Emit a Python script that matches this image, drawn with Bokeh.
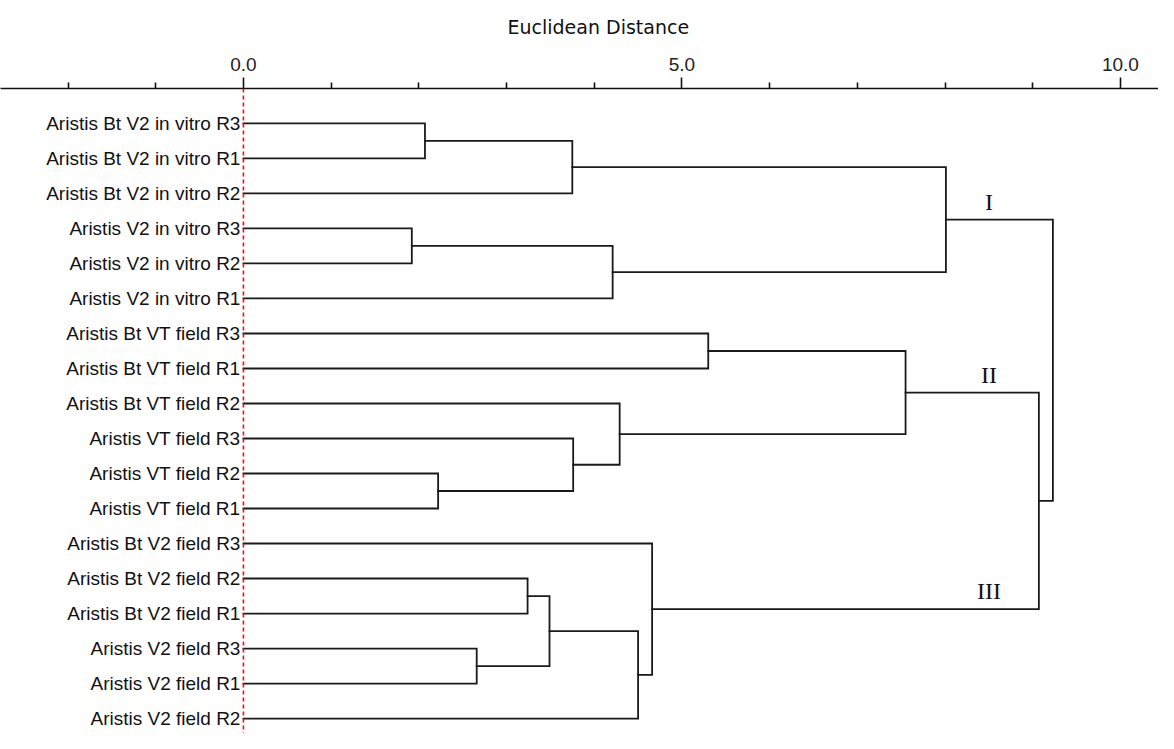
from bokeh.plotting import figure
from bokeh.models import Range1d, FixedTicker, PrintfTickFormatter, Span, ColumnDataSource
from bokeh.core.properties import value
from bokeh.embed import file_html
from bokeh.resources import INLINE

# ---- data ----
leaves = [
    "Aristis Bt V2 in vitro R3",
    "Aristis Bt V2 in vitro R1",
    "Aristis Bt V2 in vitro R2",
    "Aristis V2 in vitro R3",
    "Aristis V2 in vitro R2",
    "Aristis V2 in vitro R1",
    "Aristis Bt VT field R3",
    "Aristis Bt VT field R1",
    "Aristis Bt VT field R2",
    "Aristis VT field R3",
    "Aristis VT field R2",
    "Aristis VT field R1",
    "Aristis Bt V2 field R3",
    "Aristis Bt V2 field R2",
    "Aristis Bt V2 field R1",
    "Aristis V2 field R3",
    "Aristis V2 field R1",
    "Aristis V2 field R2",
]
# merges: new cluster id = 18 + merge index
merge_left = [0, 18, 3, 20, 19, 6, 10, 9, 8, 23, 13, 15, 28, 30, 12, 27, 22]
merge_right = [1, 2, 4, 5, 21, 7, 11, 24, 25, 26, 14, 16, 29, 17, 31, 32, 33]
merge_height = [2.07, 3.75, 1.92, 4.21, 8.01, 5.30, 2.22, 3.76, 4.29, 7.55,
                3.24, 2.66, 3.49, 4.50, 4.66, 9.07, 9.23]
cluster_names = ["I", "II", "III"]
cluster_nodes = [22, 27, 32]
major_ticks = [0, 5, 10]
minor_ticks = [-2, -1, 1, 2, 3, 4, 6, 7, 8, 9]
axis_title = "Euclidean Distance"

# ---- layout of the tree ----
n = len(leaves)
node_y = {i: float(i) for i in range(n)}
node_h = {i: 0.0 for i in range(n)}
xs, ys = [], []
for k, (a, b, h) in enumerate(zip(merge_left, merge_right, merge_height)):
    nid = n + k
    ya, yb = node_y[a], node_y[b]
    xs.append([node_h[a], h, h, node_h[b]])
    ys.append([ya, ya, yb, yb])
    node_y[nid] = (ya + yb) / 2.0
    node_h[nid] = h

p = figure(width=1158, height=733,
           x_range=Range1d(-2.770, 10.434), y_range=Range1d(17.427, -0.998),
           x_axis_location="above", y_axis_location=None,
           output_backend="svg", toolbar_location=None,
           min_border_left=0, min_border_right=0, min_border_bottom=0, min_border_top=87)
p.grid.visible = False
p.outline_line_color = None
p.background_fill_color = "white"

ax = p.xaxis[0]
ax.ticker = FixedTicker(ticks=major_ticks, minor_ticks=minor_ticks)
ax.formatter = PrintfTickFormatter(format="%.1f")
ax.major_tick_in = 0
ax.major_tick_out = 11
ax.minor_tick_in = 0
ax.minor_tick_out = 6
ax.axis_line_width = 1.6
ax.axis_line_color = "#111111"
ax.major_tick_line_width = 1.6
ax.major_tick_line_color = "#111111"
ax.minor_tick_line_width = 1.6
ax.minor_tick_line_color = "#111111"
ax.major_label_text_font = "Liberation Sans"
ax.major_label_text_font_size = "19px"
ax.major_label_text_color = "#222222"
ax.major_label_standoff = 7

p.title.text = axis_title
p.title.align = "left"
p.title.vertical_align = "top"
p.title.offset = 507
p.title.standoff = 30
p.title.text_font = "DejaVu Sans"
p.title.text_font_size = "19px"
p.title.text_font_style = "normal"
p.title.text_color = "#111111"

p.multi_line(xs=xs, ys=ys, line_color="#1a1a1a", line_width=1.8, line_join="miter", line_cap="square")

p.add_layout(Span(location=0, dimension="height", line_color="#ee1111",
                  line_dash="4 3", line_width=1.6))

src = ColumnDataSource(dict(x=[0.0] * n, y=list(range(n)), t=leaves))
p.text(x="x", y="y", text="t", source=src, text_align="right", text_baseline="middle",
       x_offset=-3, text_font=value("Liberation Sans"), text_font_size="19px",
       text_color="#111111")

csrc = ColumnDataSource(dict(x=[8.5] * len(cluster_names),
                             y=[node_y[c] for c in cluster_nodes], t=cluster_names))
p.text(x="x", y="y", text="t", source=csrc, text_align="center", text_baseline="middle",
       y_offset=-18, text_font=value("Liberation Serif"), text_font_size="24px",
       text_color="#111111")

open("out.html", "w").write(file_html(p, INLINE))
